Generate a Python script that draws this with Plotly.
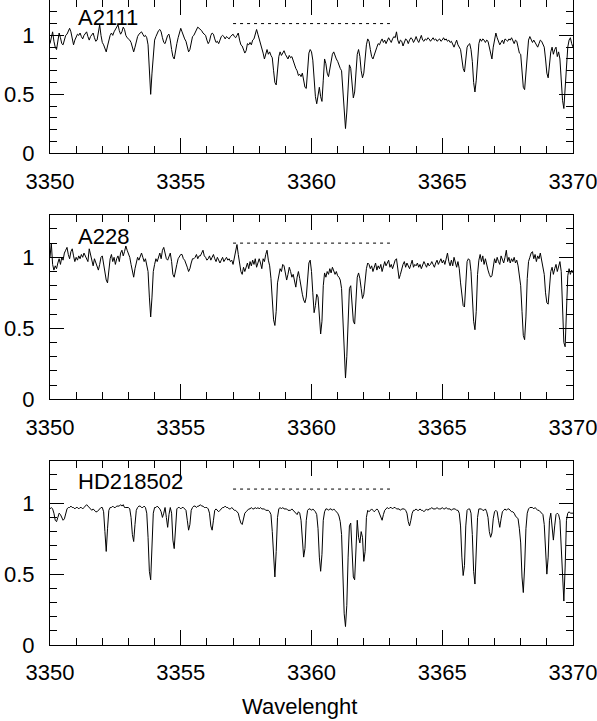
import plotly.graph_objects as go

# spectra sampled on a regular grid (start + step), one row per Angstrom
WAVE_START = 3350.0
WAVE_STEP = 0.05

flux_a2111 = [
    0.93, 1.00, 1.03, 0.95, 0.90, 0.88, 0.96, 1.02, 0.98, 0.93, 0.92, 0.97, 1.00, 1.01, 1.04, 1.06, 1.03, 0.97, 0.92, 0.96,
    0.99, 1.01, 1.00, 1.02, 0.99, 0.97, 1.00, 1.02, 1.03, 0.99, 0.96, 0.99, 1.01, 1.02, 0.98, 0.95, 0.96, 1.03, 1.09, 1.00,
    0.94, 0.92, 0.88, 0.86, 0.91, 0.97, 1.00, 1.02, 1.00, 1.03, 1.05, 1.07, 1.09, 1.04, 1.01, 1.03, 1.07, 1.05, 1.00, 0.98,
    0.97, 0.96, 0.94, 0.90, 0.86, 0.90, 0.96, 0.99, 1.01, 1.02, 1.03, 1.01, 0.99, 1.00, 0.98, 0.92, 0.72, 0.50, 0.68, 0.86,
    0.96, 0.99, 1.02, 1.04, 1.05, 1.03, 0.98, 0.94, 0.93, 0.97, 1.00, 1.01, 0.96, 0.88, 0.82, 0.80, 0.88, 0.93, 0.98, 1.03,
    1.06, 1.03, 0.99, 0.97, 0.95, 0.90, 0.86, 0.88, 0.95, 0.99, 1.00, 1.02, 1.05, 1.07, 1.06, 1.05, 1.04, 1.02, 1.01, 1.00,
    0.96, 0.93, 0.95, 1.00, 1.02, 1.01, 0.97, 0.94, 0.95, 0.93, 0.96, 0.99, 1.00, 0.99, 0.97, 0.99, 0.98, 0.97, 0.99, 1.00,
    1.01, 0.99, 0.98, 1.00, 1.02, 0.96, 0.92, 0.91, 0.88, 0.85, 0.87, 0.93, 0.92, 0.94, 0.92, 0.96, 0.97, 1.02, 1.05, 1.01,
    0.97, 0.94, 0.91, 0.85, 0.80, 0.85, 0.88, 0.84, 0.86, 0.83, 0.81, 0.70, 0.60, 0.58, 0.70, 0.82, 0.86, 0.83, 0.85, 0.87,
    0.84, 0.82, 0.80, 0.83, 0.81, 0.82, 0.78, 0.76, 0.72, 0.70, 0.66, 0.67, 0.65, 0.68, 0.61, 0.56, 0.55, 0.70, 0.85, 0.88,
    0.86, 0.79, 0.62, 0.48, 0.42, 0.50, 0.56, 0.48, 0.44, 0.62, 0.80, 0.76, 0.68, 0.65, 0.72, 0.80, 0.84, 0.86, 0.82, 0.80,
    0.78, 0.74, 0.72, 0.70, 0.52, 0.30, 0.21, 0.35, 0.62, 0.75, 0.72, 0.58, 0.47, 0.52, 0.70, 0.84, 0.88, 0.82, 0.70, 0.64,
    0.68, 0.80, 0.92, 0.97, 0.95, 0.88, 0.82, 0.80, 0.84, 0.88, 0.90, 0.93, 0.92, 0.95, 0.97, 0.94, 0.96, 0.93, 0.95, 0.98,
    0.96, 0.94, 0.97, 0.99, 0.98, 1.03, 0.96, 0.93, 0.96, 0.95, 0.91, 0.94, 0.97, 0.96, 0.93, 0.96, 0.98, 0.97, 0.94, 0.96,
    0.99, 0.96, 0.94, 0.97, 1.00, 0.96, 0.95, 0.97, 0.96, 0.98, 0.97, 0.95, 0.97, 0.98, 0.96, 0.97, 0.95, 0.96, 0.97, 0.95,
    0.96, 0.98, 0.96, 0.97, 0.95, 0.96, 0.94, 0.95, 0.93, 0.90, 0.93, 0.96, 0.92, 0.90, 0.88, 0.80, 0.72, 0.69, 0.78, 0.90,
    0.92, 0.93, 0.88, 0.78, 0.60, 0.52, 0.62, 0.82, 0.93, 0.97, 0.95, 0.97, 0.96, 0.94, 0.96, 0.95, 0.90, 0.84, 0.80, 0.90,
    0.97, 1.02, 0.98, 0.95, 0.92, 0.94, 0.96, 0.93, 0.97, 0.96, 0.95, 0.97, 0.96, 0.98, 0.95, 0.93, 0.96, 0.95, 0.90, 0.85,
    0.84, 0.72, 0.56, 0.54, 0.70, 0.88, 0.96, 0.99, 0.96, 0.94, 0.96, 0.94, 0.92, 0.90, 0.93, 0.96, 0.95, 0.92, 0.90, 0.80,
    0.68, 0.64, 0.75, 0.86, 0.90, 0.84, 0.88, 0.90, 0.82, 0.86, 0.80, 0.60, 0.45, 0.38, 0.55, 0.80, 0.90, 0.96, 0.98, 0.93,
    0.90,
]

flux_a228 = [
    1.00, 1.10, 0.95, 0.91, 0.94, 0.92, 0.96, 0.99, 0.95, 1.00, 0.98, 1.03, 1.05, 1.07, 1.02, 0.99, 1.04, 1.06, 1.01, 0.97,
    1.00, 0.98, 1.01, 0.99, 1.02, 1.00, 1.03, 1.01, 0.99, 0.97, 1.06, 1.02, 0.97, 0.94, 0.99, 0.96, 0.93, 0.91, 0.95, 1.00,
    1.01, 0.96, 0.90, 0.84, 0.82, 0.92, 0.99, 1.02, 0.97, 1.00, 0.95, 0.99, 1.01, 0.97, 1.03, 1.05, 1.01, 1.04, 1.08, 1.05,
    1.02, 1.00, 0.95, 0.89, 0.86, 0.92, 0.97, 1.00, 0.98, 1.01, 1.03, 1.00, 0.97, 0.99, 0.95, 0.90, 0.72, 0.58, 0.72, 0.90,
    0.95, 0.99, 0.97, 1.00, 1.03, 0.99, 1.05, 1.07, 1.03, 0.99, 0.98, 1.01, 1.03, 0.97, 0.88, 0.86, 0.92, 0.95, 0.99, 1.01,
    1.02, 1.02, 0.99, 0.98, 0.96, 0.93, 0.90, 0.92, 0.96, 0.99, 0.99, 1.00, 1.02, 0.99, 1.01, 1.01, 1.03, 1.05, 1.01, 1.00,
    0.98, 0.99, 1.01, 0.98, 1.00, 1.02, 0.99, 0.97, 1.00, 0.98, 0.96, 0.98, 1.00, 0.97, 0.99, 1.00, 0.98, 0.99, 0.97, 0.98,
    0.95, 0.99, 1.03, 1.09, 1.02, 0.94, 0.90, 0.88, 0.93, 0.90, 0.94, 0.96, 0.92, 0.97, 0.94, 0.98, 0.95, 0.99, 0.93, 0.96,
    0.99, 0.96, 0.92, 0.99, 0.97, 1.02, 1.05, 0.98, 0.94, 0.85, 0.70, 0.56, 0.52, 0.62, 0.82, 0.88, 0.92, 0.90, 0.95, 0.94,
    0.90, 0.84, 0.88, 0.93, 0.90, 0.86, 0.88, 0.83, 0.79, 0.86, 0.90, 0.85, 0.78, 0.74, 0.70, 0.68, 0.72, 0.85, 0.96, 0.98,
    0.90, 0.75, 0.61, 0.66, 0.74, 0.72, 0.58, 0.46, 0.55, 0.80, 0.89, 0.86, 0.90, 0.88, 0.92, 0.89, 0.93, 0.91, 0.88, 0.90,
    0.87, 0.86, 0.84, 0.78, 0.55, 0.28, 0.15, 0.30, 0.62, 0.78, 0.80, 0.68, 0.55, 0.53, 0.70, 0.86, 0.89, 0.85, 0.78, 0.71,
    0.74, 0.84, 0.92, 0.96, 0.95, 0.92, 0.94, 0.90, 0.93, 0.96, 0.91, 0.94, 0.92, 0.95, 0.90, 0.93, 0.97, 0.94, 0.96, 0.98,
    0.93, 0.95, 0.92, 0.96, 0.98, 0.99, 0.90, 0.85, 0.88, 0.92, 0.95, 0.97, 0.93, 0.96, 0.94, 0.92, 0.95, 0.98, 0.93, 0.95,
    0.94, 0.96, 0.93, 0.95, 0.92, 0.94, 0.97, 0.95, 0.93, 0.96, 0.94, 0.95, 0.97, 0.95, 0.93, 0.96, 0.98, 0.95, 0.97, 0.99,
    0.96, 0.98, 0.95, 0.99, 1.03, 0.97, 0.94, 0.98, 0.94, 1.00, 0.96, 0.93, 0.97, 0.92, 0.82, 0.72, 0.66, 0.65, 0.84, 0.97,
    0.99, 0.98, 0.90, 0.72, 0.55, 0.49, 0.62, 0.88, 0.98, 1.02, 0.97, 1.01, 0.95, 0.99, 0.94, 0.91, 0.88, 0.86, 0.87, 0.95,
    0.99, 0.96, 1.00, 0.97, 0.95, 1.01, 0.98, 0.96, 1.00, 1.05, 0.97, 1.00, 0.96, 0.99, 0.97, 1.00, 0.96, 0.98, 0.94, 0.88,
    0.80, 0.62, 0.45, 0.42, 0.58, 0.85, 0.97, 1.00, 1.03, 1.04, 0.99, 1.02, 0.97, 1.01, 0.99, 1.03, 0.97, 0.94, 0.88, 0.75,
    0.68, 0.67, 0.78, 0.90, 0.93, 0.88, 0.92, 0.95, 0.90, 0.93, 0.97, 0.90, 0.62, 0.40, 0.37, 0.65, 0.87, 0.92, 0.88, 0.91,
    0.89,
]

flux_hd218502 = [
    0.96, 0.97, 0.96, 0.93, 0.88, 0.87, 0.90, 0.93, 0.92, 0.90, 0.88, 0.89, 0.93, 0.96, 0.97, 0.97, 0.98, 0.97, 0.97, 0.96,
    0.97, 0.97, 0.96, 0.97, 0.97, 0.96, 0.97, 0.98, 0.99, 0.98, 0.97, 0.96, 0.95, 0.96, 0.95, 0.94, 0.94, 0.95, 0.96, 0.97,
    0.97, 0.94, 0.80, 0.66, 0.82, 0.95, 0.97, 0.97, 0.98, 0.97, 0.97, 0.98, 0.98, 0.98, 0.99, 0.98, 0.99, 0.97, 0.97, 0.97,
    0.97, 0.96, 0.90, 0.78, 0.73, 0.85, 0.95, 0.97, 0.98, 0.98, 0.97, 0.97, 0.98, 0.97, 0.93, 0.76, 0.52, 0.46, 0.72, 0.93,
    0.97, 0.97, 0.98, 0.97, 0.96, 0.94, 0.90, 0.93, 0.97, 0.90, 0.83, 0.92, 0.97, 0.93, 0.74, 0.68, 0.86, 0.96, 0.97, 0.97,
    0.96, 0.97, 0.97, 0.96, 0.95, 0.88, 0.81, 0.85, 0.95, 0.97, 0.98, 0.98, 0.97, 0.98, 0.98, 0.99, 0.98, 0.98, 0.97, 0.97,
    0.97, 0.96, 0.93, 0.84, 0.81, 0.88, 0.95, 0.96, 0.95, 0.94, 0.95, 0.96, 0.97, 0.97, 0.98, 0.97, 0.97, 0.96, 0.96, 0.97,
    0.96, 0.95, 0.95, 0.94, 0.93, 0.89, 0.86, 0.85, 0.89, 0.93, 0.94, 0.95, 0.96, 0.96, 0.97, 0.96, 0.96, 0.97, 0.96, 0.97,
    0.96, 0.97, 0.96, 0.96, 0.96, 0.95, 0.95, 0.95, 0.94, 0.92, 0.80, 0.58, 0.48, 0.66, 0.90, 0.96, 0.97, 0.96, 0.97, 0.96,
    0.96, 0.96, 0.95, 0.95, 0.95, 0.96, 0.95, 0.94, 0.93, 0.92, 0.94, 0.93, 0.88, 0.74, 0.62, 0.68, 0.88, 0.95, 0.96, 0.96,
    0.95, 0.96, 0.95, 0.94, 0.92, 0.82, 0.62, 0.52, 0.64, 0.88, 0.94, 0.96, 0.96, 0.95, 0.96, 0.96, 0.95, 0.96, 0.95, 0.94,
    0.93, 0.91, 0.87, 0.78, 0.52, 0.22, 0.13, 0.28, 0.62, 0.84, 0.86, 0.70, 0.48, 0.46, 0.70, 0.88, 0.76, 0.72, 0.80, 0.76,
    0.59, 0.66, 0.90, 0.95, 0.94, 0.95, 0.96, 0.95, 0.94, 0.95, 0.96, 0.95, 0.93, 0.90, 0.88, 0.92, 0.95, 0.96, 0.97, 0.96,
    0.97, 0.97, 0.96, 0.97, 0.97, 0.96, 0.96, 0.96, 0.95, 0.96, 0.96, 0.96, 0.95, 0.93, 0.87, 0.84, 0.88, 0.93, 0.95, 0.95,
    0.96, 0.95, 0.95, 0.96, 0.95, 0.95, 0.94, 0.95, 0.96, 0.95, 0.96, 0.96, 0.97, 0.96, 0.96, 0.96, 0.97, 0.96, 0.96, 0.96,
    0.97, 0.96, 0.96, 0.97, 0.96, 0.96, 0.96, 0.95, 0.96, 0.96, 0.96, 0.95, 0.95, 0.93, 0.84, 0.62, 0.49, 0.56, 0.84, 0.95,
    0.96, 0.96, 0.93, 0.78, 0.52, 0.43, 0.62, 0.90, 0.96, 0.96, 0.96, 0.95, 0.95, 0.96, 0.94, 0.90, 0.80, 0.76, 0.79, 0.89,
    0.94, 0.95, 0.94, 0.88, 0.83, 0.89, 0.94, 0.95, 0.96, 0.95, 0.96, 0.96, 0.95, 0.94, 0.94, 0.93, 0.91, 0.90, 0.89, 0.82,
    0.72, 0.48, 0.37, 0.55, 0.82, 0.93, 0.96, 0.97, 0.97, 0.97, 0.96, 0.97, 0.96, 0.95, 0.95, 0.94, 0.93, 0.92, 0.85, 0.65,
    0.50, 0.62, 0.88, 0.93, 0.84, 0.74, 0.84, 0.92, 0.93, 0.92, 0.88, 0.68, 0.42, 0.31, 0.55, 0.88, 0.93, 0.94, 0.93, 0.93,
    0.93,
]

star_names = ["A2111", "A228", "HD218502"]
spectra = [flux_a2111, flux_a228, flux_hd218502]

# dotted reference segment drawn in every panel
band_x = [3357.0, 3363.0]
band_level = 1.1

label_x = 3351.0
label_y = 1.15

FONT = "Liberation Sans, Arial, Helvetica, sans-serif"
domains = [[0.7623, 1.0], [0.3809, 0.6671], [0.0, 0.2857]]

fig = go.Figure()

for i, (name, flux) in enumerate(zip(star_names, spectra)):
    n = "" if i == 0 else str(i + 1)
    fig.add_trace(go.Scatter(y=flux, x0=WAVE_START, dx=WAVE_STEP, mode="lines",
                             line=dict(color="black", width=1),
                             xaxis="x" + n, yaxis="y" + n, showlegend=False))
    fig.add_trace(go.Scatter(x=band_x, y=[band_level, band_level], mode="lines",
                             line=dict(color="black", width=1, dash="3px,4px"),
                             xaxis="x" + n, yaxis="y" + n, showlegend=False))
    fig.add_annotation(x=label_x, y=label_y, xref="x" + n, yref="y" + n, text=name,
                       showarrow=False, xanchor="left", yanchor="middle",
                       font=dict(family=FONT, size=22, color="black"))

    axis_common = dict(showline=True, linecolor="black", linewidth=1, mirror="allticks",
                       ticks="inside", tickcolor="black", showgrid=False, zeroline=False,
                       automargin=False, ticklabeloverflow="allow",
                       tickfont=dict(family=FONT, size=22, color="black"))
    fig.update_layout({
        "xaxis" + n: dict(axis_common, domain=[0, 1], range=[3350, 3370], dtick=5,
                          tick0=3350, ticklen=15, anchor="y" + n, ticklabelstandoff=8,
                          minor=dict(dtick=1, ticklen=7, ticks="inside", tickcolor="black")),
        "yaxis" + n: dict(axis_common, domain=domains[i], range=[0, 1.3], dtick=0.5,
                          tick0=0, ticklen=14, anchor="x" + n, ticklabelstandoff=10,
                          minor=dict(dtick=0.1, ticklen=7, ticks="inside", tickcolor="black")),
    })

fig.add_annotation(x=0.478, y=-0.096, xref="paper", yref="paper", text="Wavelenght",
                   showarrow=False, xanchor="center", yanchor="middle",
                   font=dict(family=FONT, size=22, color="black"))

fig.update_layout(width=597, height=721, margin=dict(l=50, r=24, t=0, b=76),
                  paper_bgcolor="white", plot_bgcolor="white")

# drop the browser's default page margin so the figure sits at the window corner
fig.write_html("out.html", config={"displayModeBar": False},
               post_script="document.body.style.margin='0';")
